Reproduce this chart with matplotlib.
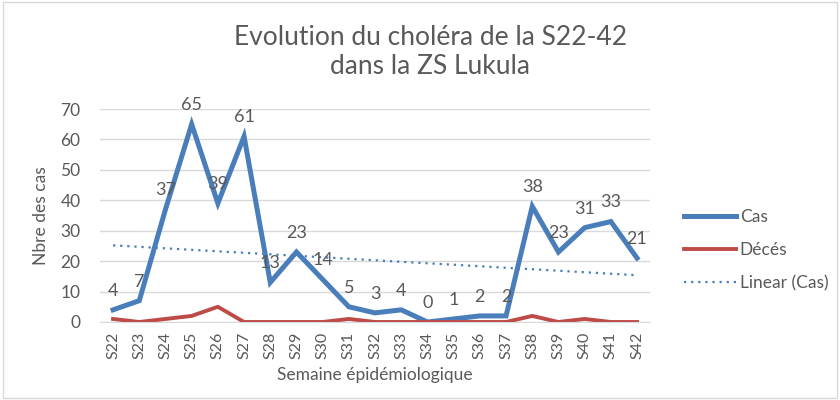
import numpy as np
import matplotlib.pyplot as plt
from matplotlib.patches import Rectangle

weeks = [f"S{n}" for n in range(22, 43)]
cas = [4, 7, 37, 65, 39, 61, 13, 23, 14, 5, 3, 4, 0, 1, 2, 2, 38, 23, 31, 33, 21]
deces = [1, 0, 1, 2, 5, 0, 0, 0, 0, 1, 0, 0, 0, 0, 0, 0, 2, 0, 1, 0, 0]

BLUE = '#4a7ebb'
RED = '#be4b48'
GRAY = '#595959'
GRID = '#d9d9d9'

plt.rcParams['font.family'] = ['Lato', 'DejaVu Sans']

fig = plt.figure(figsize=(8.4, 4.0), dpi=100)
fig.patches.append(Rectangle((0.003, 0.005), 0.994, 0.99, transform=fig.transFigure,
                             fill=False, edgecolor='#d9d9d9', linewidth=1))
ax = fig.add_axes([0.119, 0.195, 0.655, 0.5325])

x = np.arange(len(weeks))
ax.plot(x, cas, color=BLUE, linewidth=3.6, label='Cas', solid_joinstyle='miter')
ax.plot(x, deces, color=RED, linewidth=2.8, label='Décés')

# linear trendline on cases
coef = np.polyfit(x, cas, 1)
ax.plot(x, np.polyval(coef, x), color=BLUE, linestyle=(0, (1, 2.2)), linewidth=1.6,
        label='Linear (Cas)')

for xi, v in zip(x, cas):
    ax.annotate(str(v), (xi, v), xytext=(0, 8), textcoords='offset points',
                ha='center', va='bottom', fontsize=13, color=GRAY)

ax.set_xlim(-0.5, len(weeks) - 0.5)
ax.set_ylim(0, 70)
ax.set_yticks(range(0, 71, 10))
ax.set_xticks(x)
ax.set_xticklabels(weeks, rotation=90, fontsize=11.5, color=GRAY)
ax.tick_params(axis='y', labelsize=12.5, colors=GRAY, length=0, pad=14)
ax.tick_params(axis='x', length=0, pad=7)
ax.grid(True, axis='y', color=GRID, linewidth=1)
ax.set_axisbelow(True)
for s in ['top', 'right', 'left']:
    ax.spines[s].set_visible(False)
ax.spines['bottom'].set_color(GRID)

ax.set_ylabel('Nbre des cas', fontsize=12.5, color=GRAY, labelpad=8)
ax.set_xlabel('Semaine épidémiologique', fontsize=12.5, color=GRAY, labelpad=6)

fig.text(0.512, 0.87, 'Evolution du choléra de la S22-42\ndans la ZS Lukula',
         ha='center', va='center', fontsize=19, color=GRAY, linespacing=1.2)

leg = fig.legend(loc='center left', bbox_to_anchor=(0.796, 0.375), frameon=False,
                 fontsize=12.5, labelcolor=GRAY, handlelength=3.0, handletextpad=0.2,
                 labelspacing=1.0)

fig.savefig('out.png', dpi=100)
